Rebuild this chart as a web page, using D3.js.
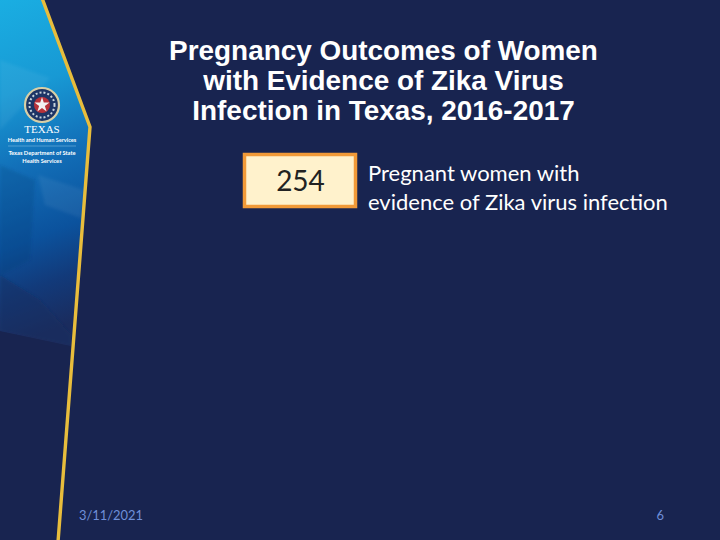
<!DOCTYPE html>
<html>
<head>
<meta charset="utf-8">
<script src="https://cdn.jsdelivr.net/npm/d3@7"></script>
<style>
	html, body { margin: 0; padding: 0; background: #182450; }
	svg { display: block; }
	text { font-family: "Lato", "Open Sans", sans-serif; }
</style>
</head>
<body>
<svg width="720" height="540"></svg>
<script>
const titleLines = ["Pregnancy Outcomes of Women", "with Evidence of Zika Virus", "Infection in Texas, 2016-2017"]
const outcomeCounts = [254]
const outcomeLabels = [["Pregnant women with", "evidence of Zika virus infection"]]
const footerDate = "3/11/2021"
const pageNumber = "6"

const logoLines = [
	{ text: "TEXAS", y: 133, size: 11, family: "Liberation Serif" },
	{ text: "Health and Human Services", y: 142, size: 5.6, weight: "bold" },
	{ text: "Texas Department of State", y: 155, size: 5.7, weight: "bold" },
	{ text: "Health Services", y: 163, size: 5.7, weight: "bold" },
]

const panelOutline = [[0, 0], [42, 0], [90, 127], [71, 346], [0, 331]]

const panelStops = [
	{ at: "0%", color: "#1aaee2" },
	{ at: "28%", color: "#1899d4" },
	{ at: "50%", color: "#126fb8" },
	{ at: "72%", color: "#0b529d" },
	{ at: "86%", color: "#123a7a" },
	{ at: "100%", color: "#1a2c5e" },
]

// faint facets laid over the gradient
const facets = [
	{ pts: [[0, 60], [50, 78], [0, 130]], fill: "#ffffff", opacity: 0.05 },
	{ pts: [[38, 175], [84, 190], [81, 218], [45, 205]], fill: "#ffffff", opacity: 0.06 },
	{ pts: [[0, 165], [35, 180], [30, 260], [0, 276]], fill: "#06306e", opacity: 0.2 },
	{ pts: [[0, 275], [40, 300], [71, 335], [71, 346], [0, 331]], fill: "#1b2c5e", opacity: 0.45 },
]

const svg = d3.select("svg")
svg.append("rect").attr("width", 720).attr("height", 540).attr("fill", "#182450")

const defs = svg.append("defs")
defs.append("filter").attr("id", "soft").append("feGaussianBlur").attr("stdDeviation", 1.5)
defs.append("clipPath").attr("id", "panelClip").append("path")
	.attr("d", d3.line()(panelOutline) + "Z")
defs.append("linearGradient").attr("id", "panelFill")
	.attr("x1", 0).attr("y1", 0).attr("x2", 0.1).attr("y2", 1)
	.selectAll("stop")
	.data(panelStops)
	.join("stop")
	.attr("offset", d => d.at)
	.attr("stop-color", d => d.color)

const line = d3.line()

svg.append("path")
	.attr("d", line(panelOutline) + "Z")
	.attr("fill", "url(#panelFill)")

svg.append("g")
	.attr("clip-path", "url(#panelClip)")
	.append("g")
	.attr("filter", "url(#soft)")
	.selectAll("path")
	.data(facets)
	.join("path")
	.attr("d", d => line(d.pts) + "Z")
	.attr("fill", d => d.fill)
	.attr("opacity", d => d.opacity)

// the gold edge of the panel
svg.append("path")
	.attr("d", line([[42, -2], [90, 127], [58, 542]]))
	.attr("fill", "none")
	.attr("stroke", "#e8bd3c")
	.attr("stroke-width", 3.4)

// seal
const seal = svg.append("g").attr("transform", "translate(42,105)")
seal.append("circle").attr("r", 17).attr("fill", "#1d3566").attr("stroke", "#d8cfa6").attr("stroke-width", 2.2)
seal.append("circle").attr("r", 8).attr("fill", "#b8323a")
seal.append("path")
	.attr("d", d3.symbol(d3.symbolStar, 70))
	.attr("fill", "#f2f2f2")
seal.append("circle").attr("r", 12.5).attr("fill", "none")
	.attr("stroke", "#c8d4dc").attr("stroke-width", 2).attr("stroke-dasharray", "2 2")

svg.append("g")
	.selectAll("text")
	.data(logoLines)
	.join("text")
	.attr("x", 42)
	.attr("y", d => d.y)
	.attr("text-anchor", "middle")
	.attr("fill", "#ffffff")
	.attr("font-size", d => d.size)
	.attr("font-weight", d => d.weight || "normal")
	.style("font-family", d => d.family || null)
	.text(d => d.text)

svg.append("line")
	.attr("x1", 8).attr("x2", 76).attr("y1", 146).attr("y2", 146)
	.attr("stroke", "#8fc4e4").attr("stroke-width", 0.5)

// title
svg.append("g")
	.selectAll("text")
	.data(titleLines)
	.join("text")
	.attr("x", 383.5)
	.attr("y", (d, i) => 59.5 + i * 30)
	.attr("text-anchor", "middle")
	.attr("fill", "#ffffff")
	.attr("font-size", 27.9)
	.attr("font-weight", "bold")
	.style("font-family", "Liberation Sans")
	.text(d => d)

// count box and its label
const rows = svg.append("g")
	.selectAll("g")
	.data(outcomeCounts)
	.join("g")

rows.append("rect")
	.attr("x", 244.5).attr("y", 154.5).attr("width", 111).attr("height", 52)
	.attr("fill", "#fff2cc")
	.attr("stroke", "#f19a38")
	.attr("stroke-width", 3.5)

rows.append("text")
	.attr("x", 300.5)
	.attr("y", 191)
	.attr("text-anchor", "middle")
	.attr("fill", "#222222")
	.attr("font-size", 28)
	.text(d => d)

svg.append("g")
	.selectAll("text")
	.data(outcomeLabels[0])
	.join("text")
	.attr("x", 368)
	.attr("y", (d, i) => 181 + i * 29)
	.attr("fill", "#ffffff")
	.attr("font-size", 22)
	.text(d => d)

// footer
svg.append("text")
	.attr("x", 79).attr("y", 520)
	.attr("fill", "#6f8fd8")
	.attr("font-size", 12.9)
	.text(footerDate)

svg.append("text")
	.attr("x", 664).attr("y", 520)
	.attr("text-anchor", "end")
	.attr("fill", "#6f8fd8")
	.attr("font-size", 12.9)
	.text(pageNumber)
</script>
</body>
</html>
